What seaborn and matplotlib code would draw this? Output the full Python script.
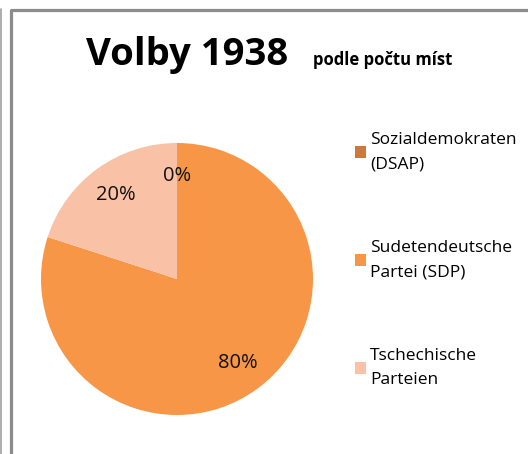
import matplotlib
matplotlib.use("Agg")
import matplotlib.pyplot as plt
from matplotlib.lines import Line2D
import seaborn as sns

# Volby 1938 - podíl míst
strany = ["Sozialdemokraten\n(DSAP)", "Sudetendeutsche\nPartei (SDP)", "Tschechische\nParteien"]
podil = [0, 80, 20]
barvy = ["#CB7A3B", "#F79646", "#F9C2A6"]

sns.set_theme(style="white")
plt.rcParams["font.family"] = ["Open Sans", "DejaVu Sans"]
plt.rcParams["text.color"] = "black"

W, H = 528, 454
fig = plt.figure(figsize=(W / 100, H / 100), dpi=100)
fig.patch.set_facecolor("white")

# ramecek grafu
def px(x, y):
    return x / W, 1 - y / H

fig.add_artist(Line2D([px(11, 0)[0], px(11, 0)[0], 1.02], [-0.02, px(0, 10)[1], px(0, 10)[1]],
                      transform=fig.transFigure, color="#8c8c8c", lw=2.3))
fig.add_artist(Line2D([px(1, 0)[0]] * 2, [-0.02, px(0, 9)[1]],
                      transform=fig.transFigure, color="#a0a0a0", lw=1.2))

# kolac
cx, cy, r = 177, 279, 136
ax = fig.add_axes([(cx - r) / W, (H - cy - r) / H, 2 * r / W, 2 * r / H])
wedges, texts, autotexts = ax.pie(
    podil,
    colors=sns.color_palette(barvy),
    startangle=90,
    counterclock=False,
    autopct="%1.0f%%",
    pctdistance=0.76,
    textprops={"fontsize": 14.5, "color": "#111111"},
    wedgeprops={"linewidth": 0},
)
ax.set_xlim(-1, 1)
ax.set_ylim(-1, 1)
ax.set_aspect("equal")

# nadpis
fig.text(*px(86, 65), "Volby 1938", fontsize=27.5, fontweight="bold", ha="left", va="baseline")
fig.text(*px(313, 65), "podle počtu míst", fontsize=12, fontweight="bold", ha="left", va="baseline")

# legenda
leg = fig.legend(
    wedges, strany,
    loc="upper left",
    bbox_to_anchor=px(346, 123),
    frameon=False,
    fontsize=12.5,
    handlelength=0.65,
    handleheight=0.65,
    handletextpad=0.25,
    labelspacing=3.9,
    borderpad=0,
)
for t in leg.get_texts():
    t.set_linespacing(1.7)

fig.savefig("out.png", dpi=100)
